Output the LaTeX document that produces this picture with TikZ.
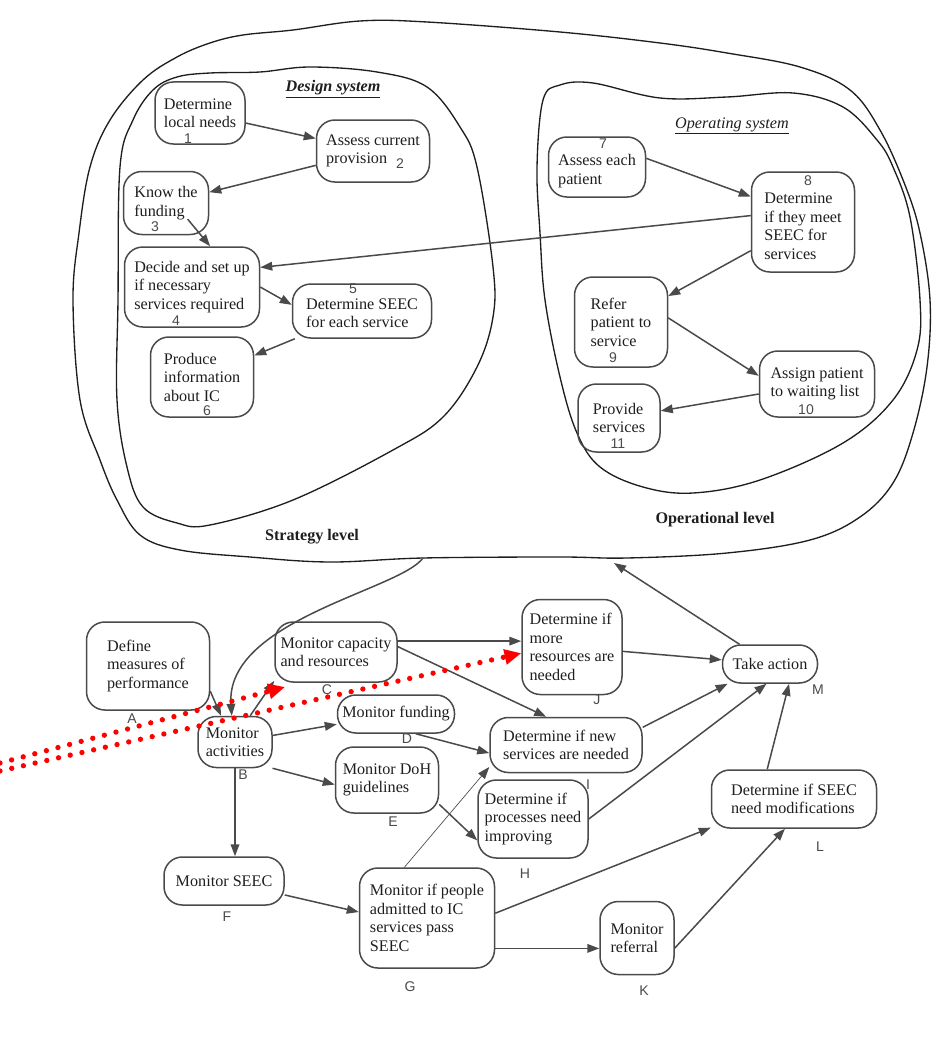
\documentclass[tikz,border=0pt]{standalone}
\usepackage{fontspec}
\setmainfont{Liberation Serif}
\setsansfont{Liberation Sans}
\usetikzlibrary{arrows.meta,calc}
\definecolor{pencil}{HTML}{4A4A4A}
\definecolor{ink}{HTML}{1E1E1E}
\tikzstyle{blob}=[draw=pencil, line width=0.45mm, rounded corners=5.5mm, align=left, inner sep=0pt, text=ink, font=\fontsize{13.8}{15.8}\selectfont]
\tikzstyle{tag}=[text=pencil, inner sep=0pt, font=\sffamily\fontsize{12}{12}\selectfont]
\tikzstyle{title}=[text=ink, inner sep=0pt, font=\fontsize{13.8}{15.8}\selectfont]
\tikzstyle{arr}=[draw=pencil, line width=0.45mm, -{Triangle[length=3.6mm,width=2.6mm]}]
\tikzstyle{boundary}=[draw=ink, line width=0.4mm]
\tikzstyle{reddots}=[draw=red, line width=1.6mm, line cap=round, dash pattern=on 0mm off 3.6mm, -{Triangle[length=5mm,width=4.4mm]}]

\begin{document}
\begin{tikzpicture}[x=0.3mm, y=-0.3mm]
\useasboundingbox (0,0) rectangle (936,1059);

% levels
\draw[boundary] plot[smooth cycle, tension=0.6] coordinates {(73,300) (80,400) (100,460) (117,500) (140,535) (180,550) (250,557) (330,562) (423,558) (560,557) (627,558) (727,553) (810,540) (860,517) (893,483) (913,433) (927,367) (930,300) (920,233) (905,185) (880,130) (850,90) (800,67) (727,53) (660,43) (560,32) (427,22) (360,21) (293,30) (243,35) (210,43) (177,57) (143,80) (110,120) (90,167) (79,233)};
\draw[boundary] plot[smooth cycle, tension=0.6] coordinates {(118,300) (117,400) (127,467) (143,507) (177,523) (210,525) (293,500) (393,450) (443,417) (477,367) (493,317) (493,267) (477,167) (460,127) (427,87) (377,72) (310,67) (260,72) (210,73) (177,77) (153,90) (133,120) (120,167)};
\draw[boundary] plot[smooth cycle, tension=0.6] coordinates {(543,100) (537,167) (540,233) (545,300) (560,377) (577,433) (600,467) (643,487) (693,493) (760,480) (843,443) (893,400) (917,350) (920,300) (910,217) (893,167) (877,140) (843,107) (793,93) (727,97) (660,98) (593,83) (560,85)};

\node[title, font=\bfseries\itshape\fontsize{13.8}{15.8}\selectfont] (dsys) at (333,89) {\underline{Design system}};
\node[title, font=\itshape\fontsize{13.8}{15.8}\selectfont] (osys) at (732,126) {\underline{Operating system}};
\node[title, font=\bfseries\fontsize{13.8}{15.8}\selectfont] (slev) at (312,537) {Strategy level};
\node[title, font=\bfseries\fontsize{13.8}{15.8}\selectfont] (olev) at (715,520) {Operational level};

% design system
\node[blob, minimum width=27mm, minimum height=18.6mm] (n1) at (200,113) {Determine\\local needs};
\node[blob, minimum width=33.9mm, minimum height=18.6mm] (n2) at (373,151) {Assess current\\provision};
\node[blob, minimum width=25.5mm, minimum height=18.9mm] (n3) at (166,203) {Know the\\funding};
\node[blob, minimum width=40.5mm, minimum height=24mm] (n4) at (192,287) {Decide and set up\\if necessary\\services required};
\node[blob, minimum width=41.7mm, minimum height=16.2mm] (n5) at (362,311) {\rule{0pt}{13pt}Determine SEEC\\for each service};
\node[blob, minimum width=30.9mm, minimum height=24mm] (n6) at (202,377) {Produce\\information\\about IC};

% operating system
\node[blob, minimum width=29.1mm, minimum height=18mm] (n7) at (597,167) {\rule{0pt}{16.5pt}Assess each\\patient};
\node[blob, minimum width=30.9mm, minimum height=30mm] (n8) at (803,222) {\rule{0pt}{16.5pt}Determine\\if they meet\\SEEC for\\services};
\node[blob, minimum width=27.9mm, minimum height=27mm] (n9) at (621,322) {Refer\\patient to\\service};
\node[blob, minimum width=34.5mm, minimum height=19.8mm] (n10) at (817,384) {Assign patient\\to waiting list};
\node[blob, minimum width=24.6mm, minimum height=20.4mm] (n11) at (619,418) {Provide\\services};

\node[tag] (t1) at (188,139) {1};
\node[tag] (t2) at (400,164) {2};
\node[tag] (t3) at (155,227) {3};
\node[tag] (t4) at (176,321) {4};
\node[tag] (t5) at (353,289) {5};
\node[tag] (t6) at (207,411) {6};
\node[tag] (t7) at (603,144) {7};
\node[tag] (t8) at (808,181) {8};
\node[tag] (t9) at (613,358) {9};
\node[tag] (t10) at (806,410) {10};
\node[tag] (t11) at (618,444) {11};

\draw[arr] (n1) -- (n2);
\draw[arr] (n2) -- (n3);
\draw[arr] ($(n3.center)!.5!(n3.south east)$) -- (n4.66);
\draw[arr] (n4.east) -- (n5.175);
\draw[arr] (n5) -- (n6);
\draw[arr] (n7.10) -- (n8.154);
\draw[arr] (n8) -- (n9);
\draw[arr] (n9.5) -- (n10.172);
\draw[arr] (n10) -- (n11);
\draw[arr] (n8.173) -- (n4.16);

% monitoring
\node[blob, minimum width=36.9mm, minimum height=26.4mm] (A) at (148,666) {Define\\measures of\\performance};
\node[blob, minimum width=22.2mm, minimum height=15.3mm] (B) at (235,742) {Monitor\\activities};
\node[blob, minimum width=36.6mm, minimum height=18mm] (C) at (336,652) {Monitor capacity\\and resources};
\node[blob, minimum width=35.1mm, minimum height=11.4mm] (D) at (396,714) {Monitor funding};
\node[blob, minimum width=30.9mm, minimum height=19.8mm] (E) at (387,780) {Monitor DoH\\guidelines};
\node[blob, minimum width=36mm, minimum height=14.4mm] (F) at (224,881) {Monitor SEEC};
\node[blob, minimum width=40.5mm, minimum height=30mm] (G) at (427,918) {Monitor if people\\admitted to IC\\services pass\\SEEC};
\node[blob, minimum width=33mm, minimum height=23.4mm] (H) at (533,819) {Determine if\\processes need\\improving};
\node[blob, minimum width=45.6mm, minimum height=16.5mm] (I) at (566,745) {Determine if new\\services are needed};
\node[blob, minimum width=30mm, minimum height=28.5mm] (J) at (572,647) {Determine if\\more\\resources are\\needed};
\node[blob, minimum width=22.2mm, minimum height=21.9mm] (K) at (637,938) {Monitor\\referral};
\node[blob, minimum width=49.5mm, minimum height=17.4mm] (L) at (794,799) {Determine if SEEC\\need modifications};
\node[blob, minimum width=28.5mm, minimum height=11.4mm] (M) at (770,664) {Take action};

\node[tag] (tA) at (132,719) {A};
\node[tag] (tB) at (243,775) {B};
\node[tag] (tC) at (327,690) {C};
\node[tag] (tD) at (407,739) {D};
\node[tag] (tE) at (393,822) {E};
\node[tag] (tF) at (227,917) {F};
\node[tag] (tG) at (410,987) {G};
\node[tag] (tH) at (525,874) {H};
\node[tag] (tI) at (588,785) {I};
\node[tag] (tJ) at (597,700) {J};
\node[tag] (tK) at (644,991) {K};
\node[tag] (tL) at (820,847) {L};
\node[tag] (tM) at (818,690) {M};

\coordinate (src) at (423,558);
\coordinate (lvl) at (614,563);

\draw[arr] (src) .. controls (400,590) and (225,620) .. (B.97);
\draw[arr] (A.-22) -- (B.118);
\draw[arr] (B.60) -- (C.205);
\draw[arr] (B) -- (D);
\draw[arr] (B.-35) -- (E.185);
\draw[arr] (B.south) -- (B.south |- F.north);
\draw[arr] (C.10) -- (C.10 -| J.west);
\draw[arr] (C.5) -- (I.125);
\draw[arr] (D.-45) -- (I.186);
\draw[arr] (E.-25) -- (H.201);
\draw[arr] (F) -- (G.175);
\draw[arr, line width=0.2mm] (G.114) -- (I.196);
\draw[arr] (G.4) -- (L.199);
\draw[arr] (G.-24) -- (G.-24 -| K.west);
\draw[arr] (K.-15) -- (L.253);
\draw[arr] (J) -- (M);
\draw[arr] (I.13) -- (M.205);
\draw[arr] (H.east) -- (M.260);
\draw[arr] (L.132) -- (M.-46);
\draw[arr] (M) -- (lvl);

% red markers
\coordinate (r1) at (0,763);
\coordinate (r1e) at (285,687);
\coordinate (r2) at (0,771);
\draw[reddots] (r1) -- (r1e);
\draw[reddots] (r2) -- (J.187);

\end{tikzpicture}
\end{document}
